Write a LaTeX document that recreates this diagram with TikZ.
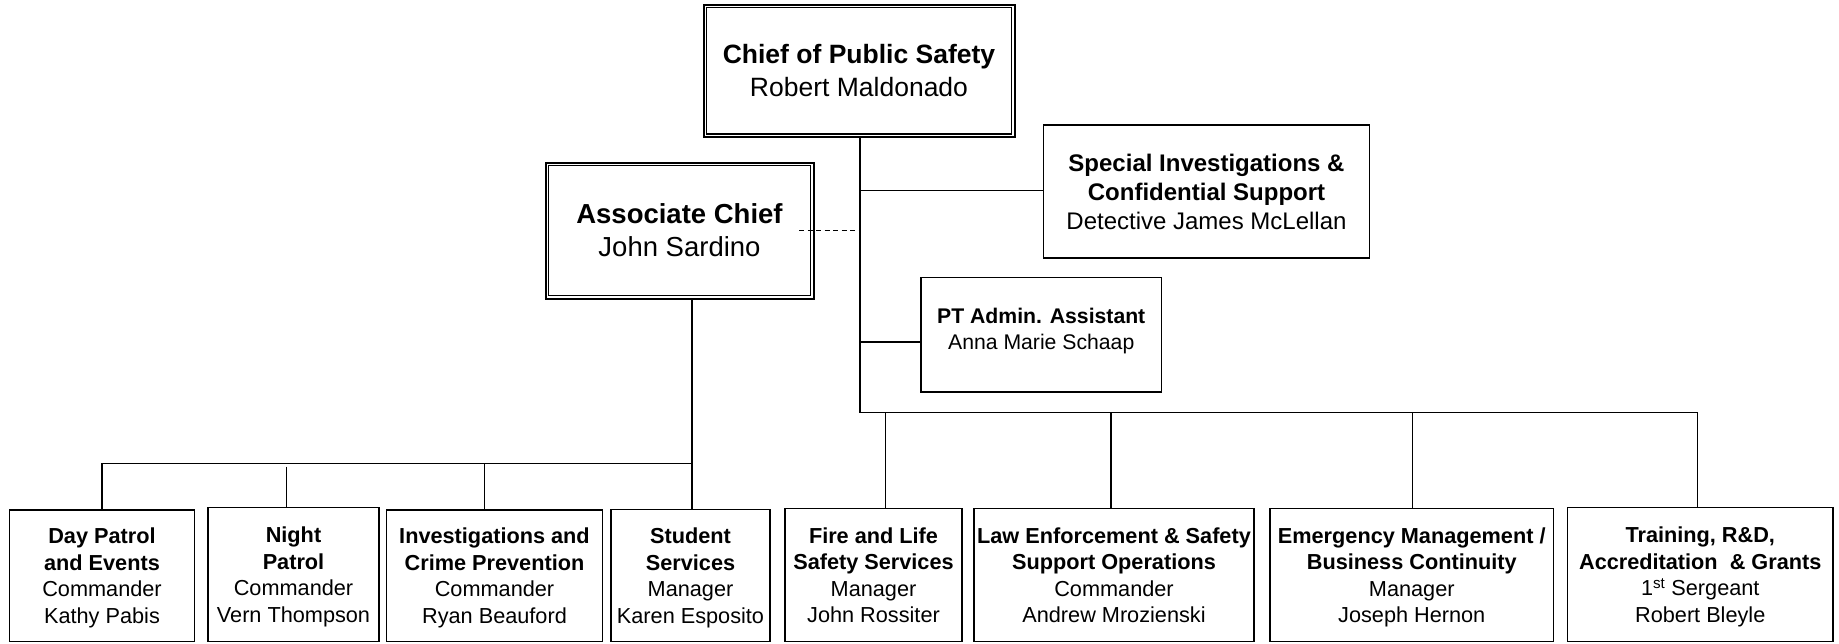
\documentclass[tikz,border=0pt]{standalone}
\usepackage{fontspec}
\setmainfont{Liberation Sans}
\begin{document}
\begin{tikzpicture}[x=1pt,y=-1pt,
  box/.style={draw, line width=1.8pt, inner sep=0pt, align=center},
  dbox/.style={draw, line width=2pt, inner sep=0pt, align=center},
  bottomfont/.style={font=\fontsize{21.7}{26.5}\selectfont, text depth=0pt},
  conn/.style={line width=1.3pt},
  dashconn/.style={line width=1pt, dash pattern=on 5pt off 3.5pt}]
\useasboundingbox (0,0) rectangle (1839,643);
% top boxes
\node[dbox, minimum width=311pt, minimum height=132.5pt, font=\fontsize{26.5}{32.5}\selectfont]
  (chief) at (859,70.75) {\textbf{Chief of Public Safety}\\Robert Maldonado};
\draw[line width=1.2pt] ([shift={(4,4)}]chief.north west) rectangle ([shift={(-4,-4)}]chief.south east);
\node[dbox, minimum width=268pt, minimum height=136pt, font=\fontsize{27.5}{33}\selectfont]
  (assoc) at (679.5,230.5) {\textbf{Associate Chief}\\John Sardino};
\draw[line width=1.2pt] ([shift={(4,4)}]assoc.north west) rectangle ([shift={(-4,-4)}]assoc.south east);
\node[box, minimum width=326pt, minimum height=133pt, font=\fontsize{24}{29}\selectfont]
  (spec) at (1206.5,191.5) {\textbf{Special Investigations \&}\\\textbf{Confidential Support}\\Detective James McLellan};
\node[box, minimum width=240.5pt, minimum height=114.5pt, font=\fontsize{21.2}{25.7}\selectfont, text depth=12pt]
  (pt) at (1041.25,334.75) {\textbf{PT Admin. Assistant}\\Anna Marie Schaap};
% bottom boxes
\node[box, bottomfont, minimum width=185pt, minimum height=131.5pt] (day) at (102,575.75)
  {\textbf{Day Patrol}\\\textbf{and Events}\\Commander\\Kathy Pabis};
\node[box, bottomfont, minimum width=171pt, minimum height=134pt] (night) at (293.5,574.5)
  {\textbf{Night}\\\textbf{Patrol}\\Commander\\Vern Thompson};
\node[box, bottomfont, minimum width=216pt, minimum height=131.5pt] (inv) at (494.5,575.75)
  {\textbf{Investigations and}\\\textbf{Crime Prevention}\\Commander\\Ryan Beauford};
\node[box, bottomfont, minimum width=159pt, minimum height=132pt] (stud) at (690.5,575.5)
  {\textbf{Student}\\\textbf{Services}\\Manager\\Karen Esposito};
\node[box, bottomfont, minimum width=177pt, minimum height=133pt] (fire) at (873.5,575)
  {\textbf{Fire and Life}\\\textbf{Safety Services}\\Manager\\John Rossiter};
\node[box, bottomfont, minimum width=280pt, minimum height=133pt] (law) at (1114,575)
  {\textbf{Law Enforcement \& Safety}\\\textbf{Support Operations}\\Commander\\Andrew Mrozienski};
\node[box, bottomfont, minimum width=283.5pt, minimum height=133pt] (emer) at (1411.75,575)
  {\textbf{Emergency Management /}\\\textbf{Business Continuity}\\Manager\\Joseph Hernon};
\node[box, bottomfont, minimum width=265.5pt, minimum height=134pt] (train) at (1700.25,574.5)
  {\textbf{Training, R\&D,}\\\textbf{Accreditation\ \ \& Grants}\\1\textsuperscript{st} Sergeant\\Robert Bleyle};
% connector coordinates
\coordinate (cbus) at (860,412.5);
\coordinate (tfire) at (885.7,412.5);
\coordinate (tlaw) at (1111,412.5);
\coordinate (temer) at (1412.8,412.5);
\coordinate (ttrain) at (1697.5,412.5);
\coordinate (cspec) at (860,190.7);
\coordinate (cpt) at (860,342);
\coordinate (abus) at (692,463.3);
\coordinate (tday) at (102,463.3);
\coordinate (tnight) at (286.7,466.7);
\coordinate (tinv) at (484.7,463.3);
\coordinate (dstart) at (799,230);
% chief branch
\draw[conn] (cbus |- chief.south) -- (cbus) -- (ttrain) -- (ttrain |- train.north);
\draw[conn] (tfire) -- (tfire |- fire.north);
\draw[conn] (tlaw) -- (tlaw |- law.north);
\draw[conn] (temer) -- (temer |- emer.north);
\draw[conn] (cspec) -- (cspec -| spec.west);
\draw[conn] (cpt) -- (cpt -| pt.west);
\draw[dashconn] (dstart) -- (dstart -| cbus);
% associate branch
\draw[conn] (abus |- assoc.south) -- (abus |- stud.north);
\draw[conn] (tday |- day.north) -- (tday) -- (abus);
\draw[conn] (tnight) -- (tnight |- night.north);
\draw[conn] (tinv) -- (tinv |- inv.north);
\end{tikzpicture}
\end{document}
